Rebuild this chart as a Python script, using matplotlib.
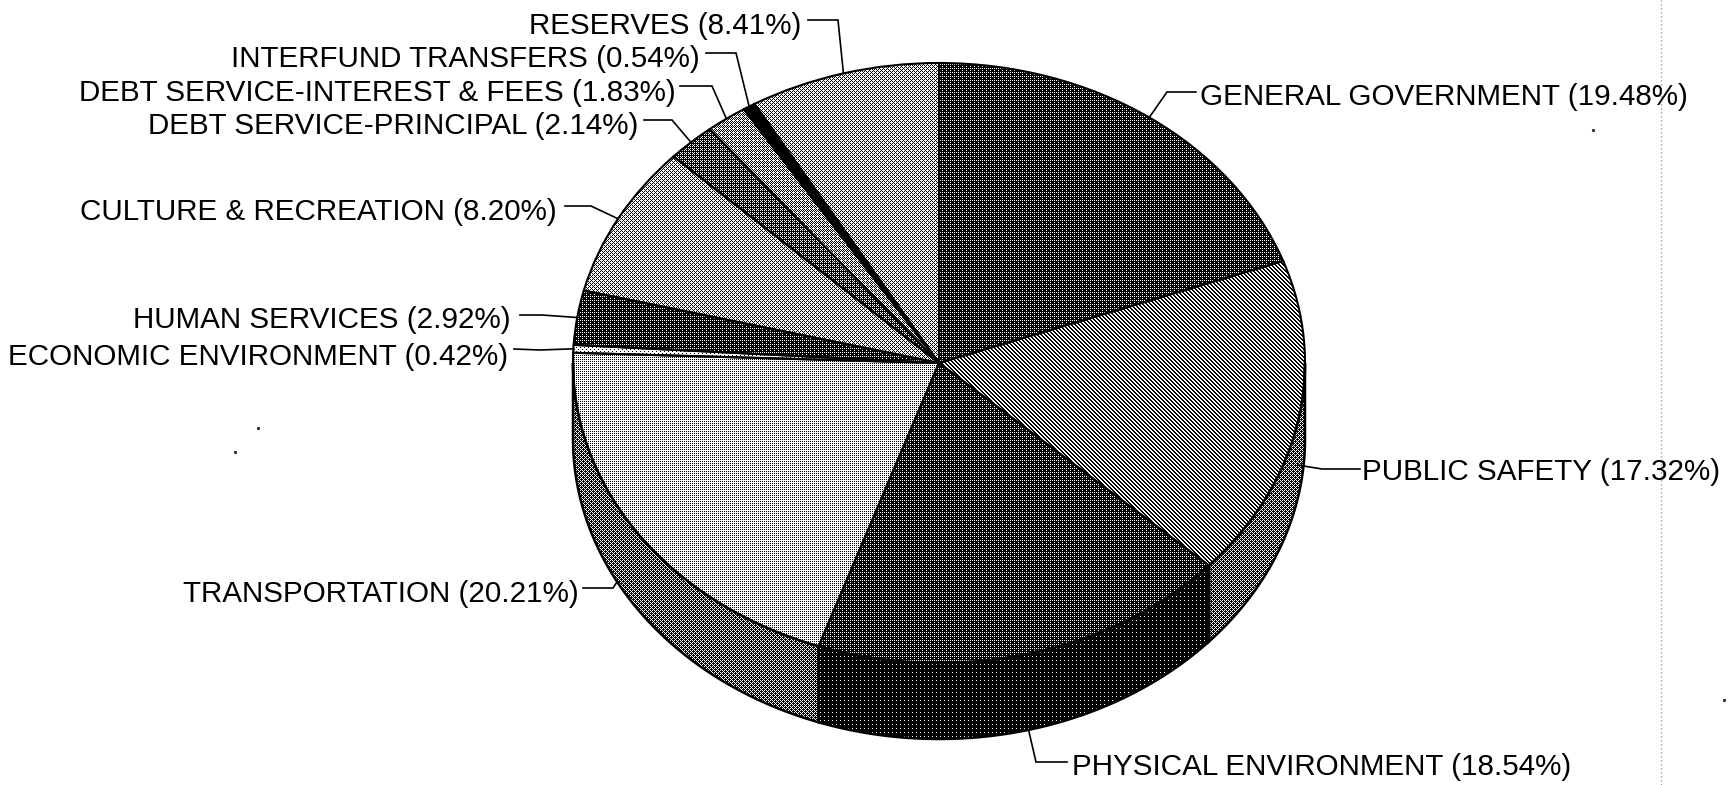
#!/usr/bin/env python3
"""Scanned budget pie: 3D-look pie with halftone fills and leader-line labels."""

import numpy as np
import matplotlib
matplotlib.use("Agg")
import matplotlib.pyplot as plt
from matplotlib.patches import Polygon

names = ["GENERAL GOVERNMENT", "PUBLIC SAFETY", "PHYSICAL ENVIRONMENT", "TRANSPORTATION",
         "ECONOMIC ENVIRONMENT", "HUMAN SERVICES", "CULTURE & RECREATION",
         "DEBT SERVICE-PRINCIPAL", "DEBT SERVICE-INTEREST & FEES", "INTERFUND TRANSFERS",
         "RESERVES"]
shares = [19.48, 17.32, 18.54, 20.21, 0.42, 2.92, 8.20, 2.14, 1.83, 0.54, 8.41]

# grey level of the top face and of the rim of each slice
top_levels = [0.19, 0.50, 0.19, 0.75, 0.88, 0.19, 0.62, 0.31, 0.56, 0.03, 0.62]
side_levels = [0.10, 0.38, 0.07, 0.38, 0.44, 0.10, 0.31, 0.13, 0.25, 0.02, 0.31]

W, H = 1735, 785
CX, CY, RX, RY, DEPTH = 939, 363, 366, 300, 76

# label layout in image pixels: text x, text y, leader start, elbow
text_x = [1200, 1362, 1072, 579, 508, 511, 557, 638, 676, 700, 801]
text_y = [97, 472, 767, 594, 357, 320, 212, 126, 93, 59, 26]
leader_start = [(1196, 92), (1360, 469), (1067, 762), (583, 588), (514, 349), (520, 315),
                (565, 206), (644, 120), (680, 86), (706, 53), (808, 20)]
leader_elbow = [(1167, 92), (1322, 469), (1036, 762), (613, 588), (540, 350), (542, 315),
                (591, 206), (672, 120), (712, 86), (736, 53), (838, 20)]
# how far down the rim the leader lands (0 top edge, 1 bottom edge), angle nudge in degrees
rim_drop = [0, 0.57, 1, 1, 0, 0, 0, 0, 0, 0, 0]
angle_nudge = [0, 0, 0, 6, 0, 0, 0, 0, 0, 0, 0]

specks = [(1593, 130), (1724, 700), (258, 428), (235, 452)]

BAYER = np.array([[0, 8, 2, 10], [12, 4, 14, 6], [3, 11, 1, 9], [15, 7, 13, 5]]) / 16 + 1 / 32


def px(x, y):
    return (x - CX) / RX, (CY - y) / RY


yy, xx = np.mgrid[0:H, 0:W]


def halftone(level, stripes=False):
    if stripes:
        return ((xx - yy) % 4 < 2).astype(float)
    return (BAYER[yy % 4, xx % 4] < level).astype(float)


fig = plt.figure(figsize=(W / 100, H / 100), dpi=100)
ax = fig.add_axes([0, 0, 1, 1])
xlim = ((0 - CX) / RX, (W - CX) / RX)
ylim = ((CY - H) / RY, CY / RY)
drop = DEPTH / RY


def fill(patch, level, stripes=False):
    im = ax.imshow(halftone(level, stripes), cmap="gray", vmin=0, vmax=1, extent=(*xlim, *ylim),
                   origin="upper", aspect="auto", interpolation="nearest", zorder=1)
    im.set_clip_path(patch)


edges = np.cumsum([0] + shares) / sum(shares) * 360

# rim pieces, only the part of a slice facing the viewer (90 to 270 clockwise from the top)
for i in range(len(shares)):
    a0, a1 = max(edges[i], 90), min(edges[i + 1], 270)
    if a1 <= a0:
        continue
    t = np.radians(np.linspace(a0, a1, 80))
    upper = np.column_stack([np.sin(t), np.cos(t)])
    lower = upper[::-1] - [0, drop]
    rim = Polygon(np.vstack([upper, lower]), closed=True, facecolor="none", edgecolor="black",
                  linewidth=1.8, zorder=2)
    ax.add_patch(rim)
    fill(rim, side_levels[i])

wedges, _ = ax.pie(shares, startangle=90, counterclock=False, radius=1, center=(0, 0),
                   wedgeprops=dict(facecolor="none", edgecolor="black", linewidth=1.5))
for i, w in enumerate(wedges):
    w.set_zorder(3)
    fill(w, top_levels[i], stripes=names[i] == "PUBLIC SAFETY")

for i, name in enumerate(names):
    mid = np.radians((edges[i] + edges[i + 1]) / 2 + angle_nudge[i])
    anchor = (np.sin(mid), np.cos(mid) - rim_drop[i] * drop)
    sx, sy = px(*leader_start[i])
    ex, ey = px(*leader_elbow[i])
    ax.plot([sx, ex, anchor[0]], [sy, ey, anchor[1]], color="black", lw=1.2, zorder=4,
            solid_joinstyle="miter")
    tx, ty = px(text_x[i], text_y[i])
    ax.text(tx, ty, f"{name} ({shares[i]:.2f}%)", family="Liberation Sans", fontsize=21.3,
            color="black", va="center", ha="left" if i < 3 else "right", zorder=5)

# scanner artefacts
lx, _ = px(1661, 0)
ax.plot([lx, lx], ylim, color="#888888", lw=0.9, ls=(0, (1, 2.2)), zorder=0)
sp = np.array([px(*p) for p in specks])
ax.plot(sp[:, 0], sp[:, 1], ls="none", marker="s", ms=1.2, color="#333333")

ax.set_aspect("auto")
ax.set_xlim(*xlim)
ax.set_ylim(*ylim)
ax.axis("off")
fig.savefig("out.png", dpi=100)
